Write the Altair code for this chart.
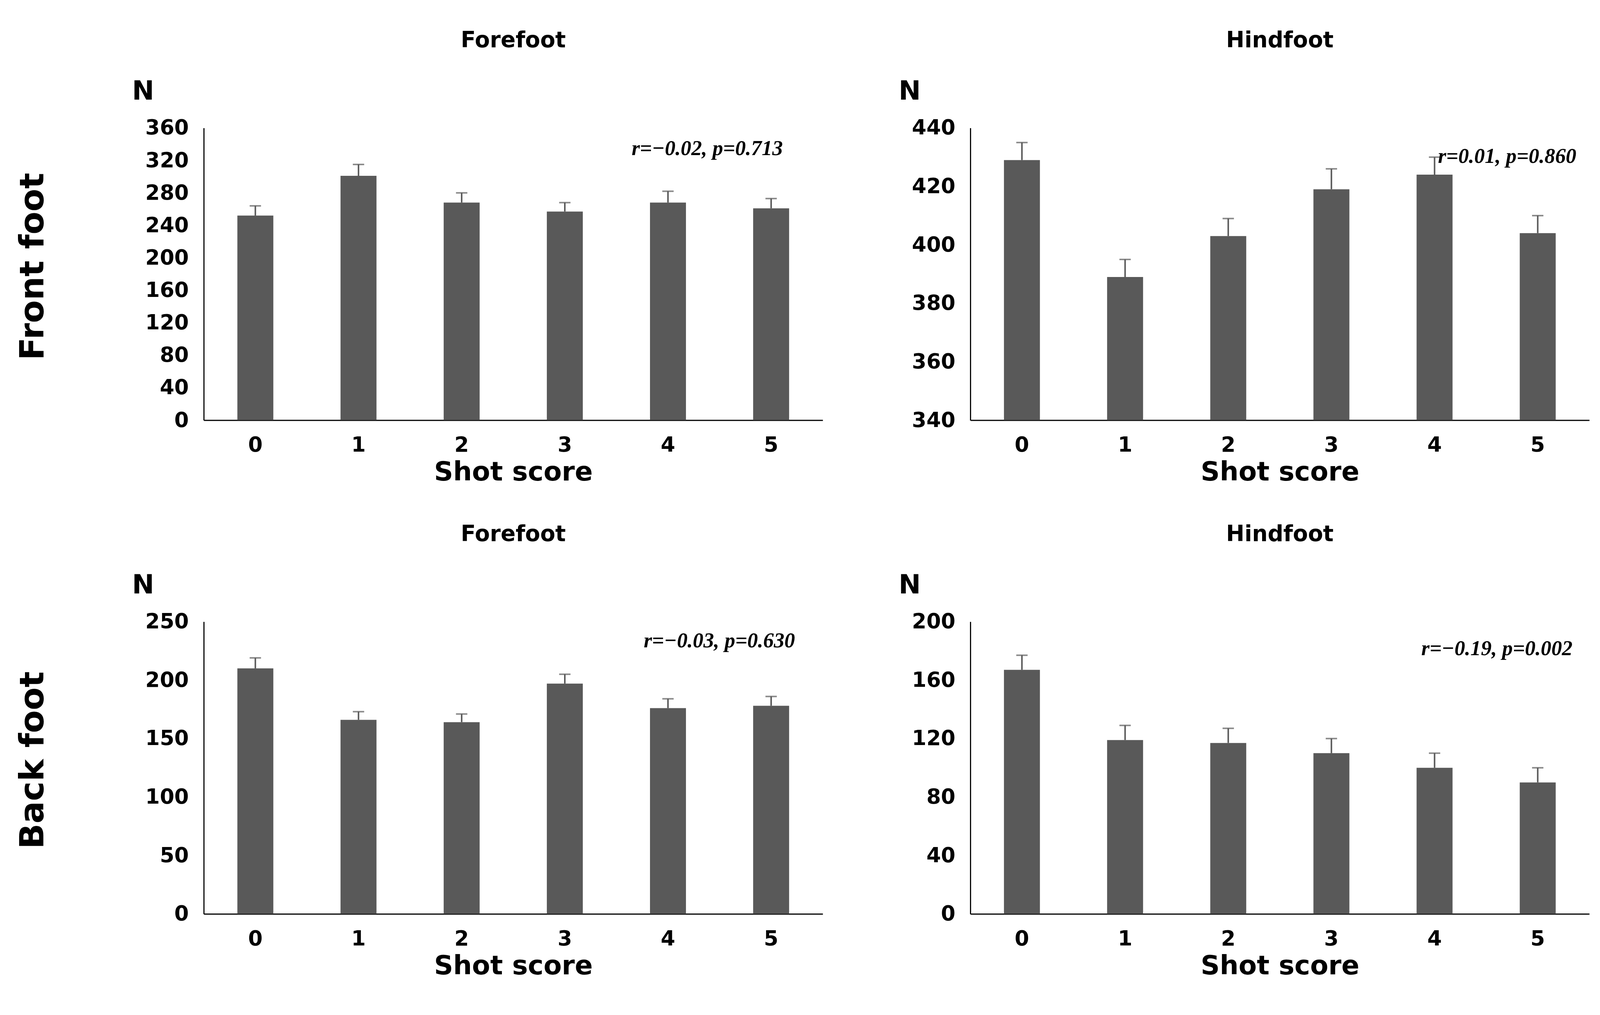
import altair as alt
import pandas as pd

scores = ['0', '1', '2', '3', '4', '5']

front_fore = [252, 301, 268, 257, 268, 261]
front_fore_err = [12, 14, 12, 11, 14, 12]
front_hind = [429, 389, 403, 419, 424, 404]
front_hind_err = [6, 6, 6, 7, 6, 6]
back_fore = [210, 166, 164, 197, 176, 178]
back_fore_err = [9, 7, 7, 8, 8, 8]
back_hind = [167, 119, 117, 110, 100, 90]
back_hind_err = [10, 10, 10, 10, 10, 10]

FONT = 'DejaVu Sans'
W, H = 1635, 772


def panel(values, errs, title, domain, step, note, note_x, note_y):
    df = pd.DataFrame({'score': scores, 'v': values,
                       'top': [v + e for v, e in zip(values, errs)]})
    x = alt.X('score:N', sort=scores, title='Shot score',
              scale=alt.Scale(paddingInner=0, paddingOuter=0),
              axis=alt.Axis(labelAngle=0, ticks=False, labelPadding=40, titlePadding=10))
    ticks = list(range(domain[0], domain[1] + 1, step))
    y = alt.Y('v:Q', title='N', scale=alt.Scale(domain=domain, nice=False, clamp=True),
              axis=alt.Axis(values=ticks, grid=False, ticks=False, labelPadding=40,
                            titleAngle=0, titleAlign='left', titleBaseline='top',
                            titleX=-190, titleY=-130))
    base = alt.Chart(df)
    bars = base.mark_bar(size=95, color='#595959', clip=True).encode(x=x, y=y)
    rule = base.mark_rule(color='#595959', strokeWidth=4).encode(x=x, y='v:Q', y2='top:Q')
    tick = base.mark_tick(color='#595959', thickness=4, size=30).encode(x=x, y='top:Q')
    txt = alt.Chart(pd.DataFrame({'t': [note]})).mark_text(
        font='Liberation Serif', fontSize=56, fontStyle='italic', fontWeight='bold',
        align='center', color='black').encode(
        x=alt.value(note_x), y=alt.value(note_y), text='t:N')
    return alt.layer(bars, rule, tick, txt).properties(
        width=W, height=H,
        title=alt.TitleParams(title, fontSize=58, font=FONT, fontWeight='bold',
                              offset=70, anchor='middle'))


def row_label(text):
    return alt.Chart(pd.DataFrame({'t': [text]})).mark_text(
        font=FONT, fontSize=88, fontWeight='bold', angle=270, color='black').encode(
        x=alt.value(60), y=alt.value(H / 2 - 20), text='t:N').properties(width=120, height=H)


row1 = alt.hconcat(
    row_label('Front foot'),
    panel(front_fore, front_fore_err, 'Forefoot', [0, 360], 40, 'r=−0.02, p=0.713', 1330, 55),
    panel(front_hind, front_hind_err, 'Hindfoot', [340, 440], 20, 'r=0.01, p=0.860', 1418, 75),
    spacing=200)
row2 = alt.hconcat(
    row_label('Back foot'),
    panel(back_fore, back_fore_err, 'Forefoot', [0, 250], 50, 'r=−0.03, p=0.630', 1362, 51),
    panel(back_hind, back_hind_err, 'Hindfoot', [0, 200], 40, 'r=−0.19, p=0.002', 1391, 72),
    spacing=200)

chart = alt.vconcat(row1, row2, spacing=100).properties(
    padding={'left': 20, 'top': 30, 'right': 20, 'bottom': 10}
).configure_view(stroke=None).configure_axis(
    labelFont=FONT, labelFontSize=55, labelFontWeight='bold', labelColor='black',
    titleFont=FONT, titleFontSize=70, titleFontWeight='bold', titleColor='black',
    domainColor='black', domainWidth=3)

chart.save("out.html", embed_options={"renderer": "svg", "actions": False})
